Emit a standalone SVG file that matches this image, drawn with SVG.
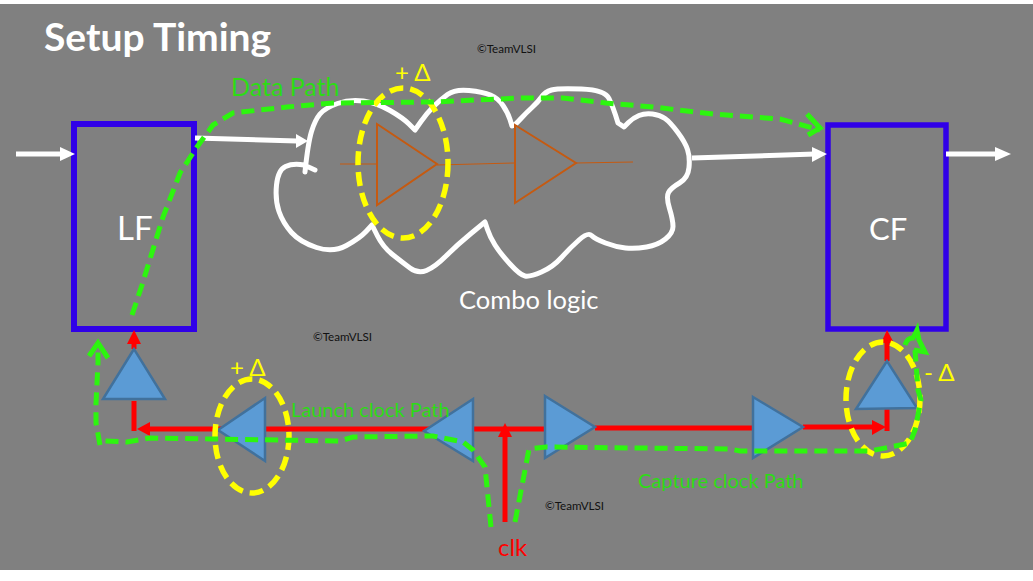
<svg xmlns="http://www.w3.org/2000/svg" width="1033" height="581" viewBox="0 0 1033 581">
<defs>
<style>
text{font-family:Lato,"Open Sans","Liberation Sans",sans-serif}
.ff{fill:#808080;stroke:#3000e8;stroke-width:6}
.w{fill:none;stroke:#fff;stroke-width:5}
.wh{fill:#fff}
.cl{fill:none;stroke:#fff;stroke-width:5;stroke-linejoin:round;stroke-linecap:round}
.or{fill:none;stroke:#c55a11;stroke-width:2}
.orl{fill:none;stroke:#c55a11;stroke-width:1}
.y{fill:none;stroke:#ff0;stroke-width:5.5;stroke-dasharray:14 7}
.b{fill:#5b9bd5;stroke:#41719c;stroke-width:2.5;stroke-linejoin:miter}
.r{fill:none;stroke:#f00;stroke-width:5}
.rh{fill:#f00}
.g{fill:none;stroke:#2df50f;stroke-width:5;stroke-dasharray:13 7}
.gs{fill:none;stroke:#2df50f;stroke-width:5}
.c{font-size:11.6px;fill:#111}
.gt{fill:#2cdc14}
.yt{fill:#ff0}
</style>
</defs>
<rect x="0" y="4" width="1033" height="566" fill="#808080"/>
<text x="44" y="51" font-size="39" font-weight="700" fill="#fff">Setup Timing</text>
<text x="477" y="53" class="c">©TeamVLSI</text>
<text x="313" y="341" class="c">©TeamVLSI</text>
<text x="545" y="510" class="c">©TeamVLSI</text>

<g id="cloud">
<path class="cl" d="M315 170L304 165Q293 163 285.5 166.5Q278 170 276.5 185Q275 200 279 211.5Q283 223 291.5 232.5Q300 242 316.5 247.5Q333 253 346.5 245.5Q360 238 366 231.5L372 225L377.5 236Q383 247 392.5 254.5Q402 262 410 268Q418 274 426.5 270.5Q435 267 446 256Q457 245 471 233.5L485 222L487.5 229.5Q490 237 495 245Q500 253 510 264Q520 275 525 276Q530 277 541.5 272Q553 267 561.5 257.5Q570 248 579 240Q588 232 591.5 235.5Q595 239 605.5 243Q616 247 625.5 248Q635 249 646.5 247Q658 245 665.5 239Q673 233 673 226.5Q673 220 669.5 208.5Q666 197 668.5 192.5Q671 188 679.5 183Q688 178 689 167.5Q690 157 687.5 149.5Q685 142 677.5 132Q670 122 665 118.5Q660 115 652.5 114Q645 113 639 115.5Q633 118 628.5 122.5L624 127L618 123L615.5 115Q613 107 609 98.5Q605 90 581.5 89Q558 88 551.5 90Q545 92 541.5 97Q538 102 532 107.5Q526 113 520.5 119Q515 125 513.5 125.5L512 126L510 119.5Q508 113 503 105.5Q498 98 490.5 95Q483 92 469 90.5Q455 89 447.5 94.5Q440 100 433.5 106.5Q427 113 421 121.5L415 130L409 124Q403 118 390 110.5Q377 103 363.5 101Q350 99 337.5 103.5Q325 108 320 114Q315 120 311.5 131.5Q308 143 305 172"/>
<text x="459" y="309" font-size="25.5" fill="#fff">Combo logic</text>
</g>
<g id="gate1">
<polygon class="or" points="377,124 437,164 377,205"/>
<path class="orl" d="M340 164H377M437 165L514 163"/>
</g>
<g id="gate2">
<polygon class="or" points="515,125 576,163 515,203"/>
<path class="orl" d="M576 163L633 162"/>
</g>
<g id="LF">
<rect class="ff" x="74" y="124" width="120" height="205"/>
<text x="117" y="240" font-size="33" fill="#fff">LF</text>
</g>
<g id="CF">
<rect class="ff" x="828" y="125" width="118" height="204" style="stroke-width:5.5"/>
<text x="869" y="240" font-size="31" fill="#fff">CF</text>
</g>

<g id="connectors">
<path class="w" d="M16 154H62M195 138L297 141M692 158L815 154M946 154H998"/>
<polygon class="wh" points="75,154 60,147 60,161"/>
<polygon class="wh" points="308,141 296,134 296,148"/>
<polygon class="wh" points="827,154 812,147 812,162"/>
<polygon class="wh" points="1011,154 995,147 995,161"/>
<path class="r" d="M134 401V431M148 429H505M505 429H545M595 428H753M803 427H875M887 431V408M887 361V342M134 349V340M505 522V435"/>
<polygon class="rh" points="134,330 127,344 141,344"/>
<polygon class="rh" points="137,429 150,422 150,436"/>
<polygon class="rh" points="505,423 498,437 512,437"/>
<polygon class="rh" points="886,427 872,420 872,435"/>
<polygon class="rh" points="887,330 881,343 894,343"/>
</g>

<g id="buf1"><polygon class="b" points="134,349 103,399 165,399"/></g>
<g id="buf2"><polygon class="b" points="218,430 265,398 265,461"/></g>
<g id="buf3"><polygon class="b" points="424,431 473,399 473,461"/></g>
<g id="buf4"><polygon class="b" points="545,396 595,427 545,458"/></g>
<g id="buf5"><polygon class="b" points="753,397 803,427 753,458"/></g>
<g id="buf6"><polygon class="b" points="887,361 856,409 917,408"/></g>

<g id="delta1">
<ellipse class="y" cx="403" cy="163" rx="45" ry="75"/>
<text x="395" y="81" font-size="24" class="yt">+ Δ</text>
</g>
<g id="delta2">
<ellipse class="y" cx="252" cy="436" rx="37" ry="57"/>
<text x="230" y="376" font-size="24" class="yt">+ Δ</text>
</g>
<g id="delta3">
<ellipse class="y" cx="883" cy="399" rx="37" ry="57"/>
<text x="924" y="381" font-size="24" class="yt">- Δ</text>
</g>

<g id="paths">
<path class="g" d="M132 315L142 285L163 217L180 173L197 147L213 125L233 113L287 107L333 103L433 102L520 98L563 98L606 103L653 107L713 114L780 119L820 130"/>
<path class="gs" d="M807 114L820 128L808 135"/>
<path class="g" d="M491 527L485 467L473 450L463 442L433 436L353 437L340 441L213 439L150 438L127 442L105 441"/>
<path class="g" d="M100 445L96 423L96 403L98 363L98 345"/>
<path class="gs" d="M89 356L98 343L108 358"/>
<path class="g" d="M515 522L525 470L529 449L546 447L730 449L740 451L870 451L910 443L915 430L921 400L918 390L915 350"/>
<path class="gs" d="M905 345Q907 338 913 338L917 330L919 340L925 352L914 350"/>
<text x="231" y="96" font-size="25" class="gt">Data Path</text>
<text x="291" y="417" font-size="20" class="gt">Launch clock Path</text>
<text x="638" y="488" font-size="20" class="gt">Capture clock Path</text>
</g>
<text x="498" y="556" font-size="24" fill="#f00">clk</text>
</svg>
